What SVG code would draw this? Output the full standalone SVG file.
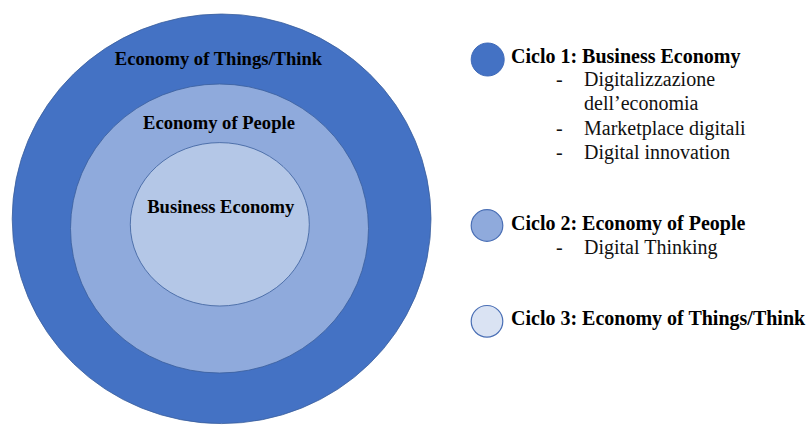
<svg xmlns="http://www.w3.org/2000/svg" width="807" height="425" viewBox="0 0 807 425">
<style>
.lbl{font-family:"Liberation Serif","Times New Roman",serif;font-weight:bold;font-size:18.6px;fill:#000;text-anchor:middle}
.hd{font-family:"Liberation Serif","Times New Roman",serif;font-weight:bold;font-size:20px;fill:#000}
.it{font-family:"Liberation Serif","Times New Roman",serif;font-size:20px;fill:#111}
.ring{stroke:#3A5E9C;stroke-width:0.8}
</style>
<rect width="807" height="425" fill="#fff"/>
<g id="outer">
<ellipse class="ring" cx="221.6" cy="218.8" rx="209.4" ry="204.8" fill="#4472C4"/>
<text class="lbl" x="218.5" y="65">Economy of Things/Think</text>
</g>
<g id="middle">
<ellipse class="ring" cx="219.5" cy="228.5" rx="149" ry="144.5" fill="#8FAADC"/>
<text class="lbl" x="219" y="129">Economy of People</text>
</g>
<g id="inner">
<ellipse class="ring" cx="219.8" cy="224.3" rx="89.5" ry="81.7" fill="#B4C7E7"/>
<text class="lbl" x="220.8" y="213">Business Economy</text>
</g>
<g id="connectors"></g>
<g id="legend1">
<circle cx="487.7" cy="59.5" r="16.5" fill="#4472C4" stroke="#3F6AB8" stroke-width="1"/>
<text class="hd" x="511" y="63">Ciclo 1: Business Economy</text>
<text class="it" x="556" y="86">-</text>
<text class="it" x="584" y="86">Digitalizzazione</text>
<text class="it" x="584" y="110">dell’economia</text>
<text class="it" x="556" y="134.5">-</text>
<text class="it" x="584" y="134.5">Marketplace digitali</text>
<text class="it" x="556" y="158.5">-</text>
<text class="it" x="584" y="158.5">Digital innovation</text>
</g>
<g id="legend2">
<circle cx="487" cy="225.5" r="15.8" fill="#8FAADC" stroke="#4A6FB5" stroke-width="1.2"/>
<text class="hd" x="511" y="230">Ciclo 2: Economy of People</text>
<text class="it" x="556" y="254">-</text>
<text class="it" x="584" y="254">Digital Thinking</text>
</g>
<g id="legend3">
<circle cx="487" cy="321.3" r="15.8" fill="#DAE3F3" stroke="#4A6FB5" stroke-width="1.2"/>
<text class="hd" x="511" y="325">Ciclo 3: Economy of Things/Think</text>
</g>
</svg>
